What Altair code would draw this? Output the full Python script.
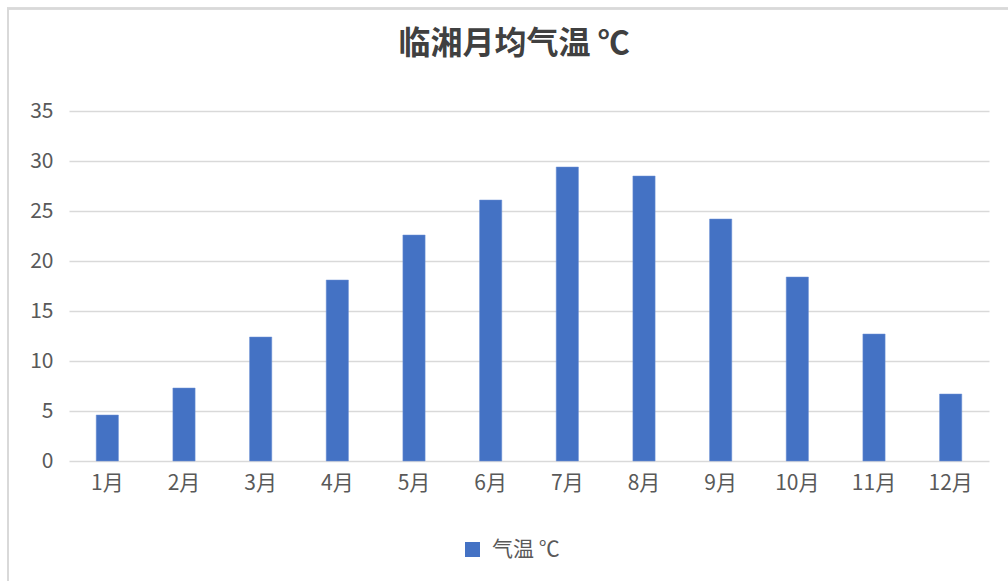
import altair as alt
import pandas as pd

# Monthly mean temperature, Linxiang
months = ["1月", "2月", "3月", "4月", "5月", "6月", "7月", "8月", "9月", "10月", "11月", "12月"]
temps = [4.6, 7.3, 12.4, 18.1, 22.6, 26.1, 29.4, 28.5, 24.2, 18.4, 12.7, 6.7]
series_name = "气温 ℃"
y_ticks = [0, 5, 10, 15, 20, 25, 30, 35]

FONT = "Noto Sans CJK SC"
LABEL = "#595959"
GRID = "#d9d9d9"
BAR = "#4472C4"

df = pd.DataFrame({"month": months, "temp": temps, "series": series_name})

bars = alt.Chart(df).mark_bar(stroke="#6f93d6", strokeWidth=0.5).encode(
    x=alt.X(
        "month:N",
        sort=months,
        scale=alt.Scale(paddingInner=0.71, paddingOuter=0.355),
        axis=alt.Axis(
            title=None, domain=False, ticks=False, grid=False,
            labelAngle=0, labelFont=FONT, labelFontSize=21, labelColor=LABEL,
            labelPadding=11,
        ),
    ),
    y=alt.Y(
        "temp:Q",
        scale=alt.Scale(domain=[0, 35], nice=False, zero=True),
        axis=alt.Axis(
            title=None, domain=False, ticks=False, values=y_ticks,
            grid=True, gridColor=GRID, gridWidth=1.3,
            labelFont=FONT, labelFontSize=21, labelColor=LABEL, labelPadding=16,
        ),
    ),
    color=alt.Color(
        "series:N",
        scale=alt.Scale(domain=[series_name], range=[BAR]),
        legend=alt.Legend(
            title=None, orient="none", legendX=393, legendY=428,
            symbolType="square", symbolSize=225, symbolStrokeWidth=0,
            labelFont=FONT, labelFontSize=21, labelColor=LABEL,
            labelOffset=9, padding=0,
        ),
    ),
)

# light frame around the whole chart
frame = alt.Chart(df).mark_rect(
    fill=None, stroke=GRID, strokeWidth=1.5, clip=False
).encode(
    x=alt.value(-61), x2=alt.value(1100),
    y=alt.value(-102.5), y2=alt.value(600),
)

chart = alt.layer(frame, bars).properties(
    width=920,
    height=350,
    title=alt.TitleParams(
        "临湘月均气温 ℃",
        font=FONT, fontSize=32, fontWeight="bold", color="#404040",
        anchor="middle", frame="group", baseline="bottom",
        dx=-15, offset=-85,
    ),
    padding={"left": 69, "top": 111, "right": 19, "bottom": 120},
    autosize="none",
).configure(background="white").configure_view(stroke=None)

chart.save("out.html", embed_options={"renderer": "svg", "actions": False})
